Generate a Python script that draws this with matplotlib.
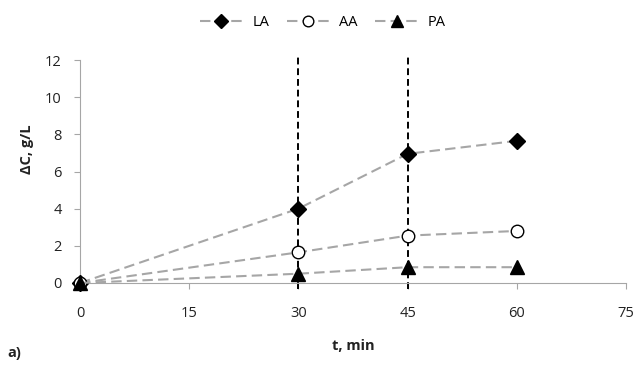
import matplotlib.pyplot as plt

plt.rcParams['font.family'] = ['Open Sans', 'DejaVu Sans']

t_min = [0, 30, 45, 60]
la = [0.0, 4.0, 6.95, 7.65]
aa = [0.0, 1.65, 2.55, 2.8]
pa = [0.0, 0.5, 0.85, 0.85]
marks = [30, 45]
x_ticks = [0, 15, 30, 45, 60, 75]
y_ticks = [0, 2, 4, 6, 8, 10, 12]

fig = plt.figure(figsize=(6.36, 3.65), dpi=100)
ax = fig.add_axes([80 / 636, 1 - 283 / 365, 546 / 636, 223 / 365])

line_kw = dict(color='#a6a6a6', linestyle=(0, (5, 2.5)), linewidth=1.5,
               markeredgecolor='black', clip_on=False, zorder=3)
ax.plot(t_min, la, marker='D', markersize=8.5, markerfacecolor='black', label='LA', **line_kw)
ax.plot(t_min, aa, marker='o', markersize=9, markerfacecolor='white', label='AA', **line_kw)
ax.plot(t_min, pa, marker='^', markersize=9.5, markerfacecolor='black', label='PA', **line_kw)

# vertical markers at 30 and 45 min
for m in marks:
    ax.plot([m, m], [-0.3, 12.15], color='black', linestyle=(0, (3.5, 2)),
            linewidth=1.4, clip_on=False, zorder=2)

ax.set_xlim(0, 75)
ax.set_ylim(0, 12)
ax.set_xticks(x_ticks)
ax.set_yticks(y_ticks)
ax.tick_params(axis='both', colors='#a6a6a6', labelcolor='#222222', labelsize=10.5,
               length=4.3, width=0.8)
ax.tick_params(axis='x', pad=12)
ax.tick_params(axis='y', pad=9)
for s in ['top', 'right']:
    ax.spines[s].set_visible(False)
for s in ['left', 'bottom']:
    ax.spines[s].set_color('#a6a6a6')
    ax.spines[s].set_linewidth(0.8)

ax.set_xlabel('t, min', fontweight='bold', fontsize=10.5, color='#222222')
ax.set_ylabel('ΔC, g/L', fontweight='bold', fontsize=10.5, color='#222222')
ax.xaxis.set_label_coords(0.5, (283 - 339) / 223)
ax.yaxis.set_label_coords((34 - 80) / 546, (283 - 149) / 223)

fig.legend(loc='center', bbox_to_anchor=(323 / 636, 1 - 23 / 365), ncol=3, frameon=False,
           fontsize=10.5, handlelength=2.9, columnspacing=1.2, handletextpad=0.7,
           markerscale=0.85)
fig.text(7 / 636, 1 - 353 / 365, 'a)', fontweight='bold', fontsize=10.5,
         color='#222222', va='center')

fig.savefig('out.png', dpi=100)
